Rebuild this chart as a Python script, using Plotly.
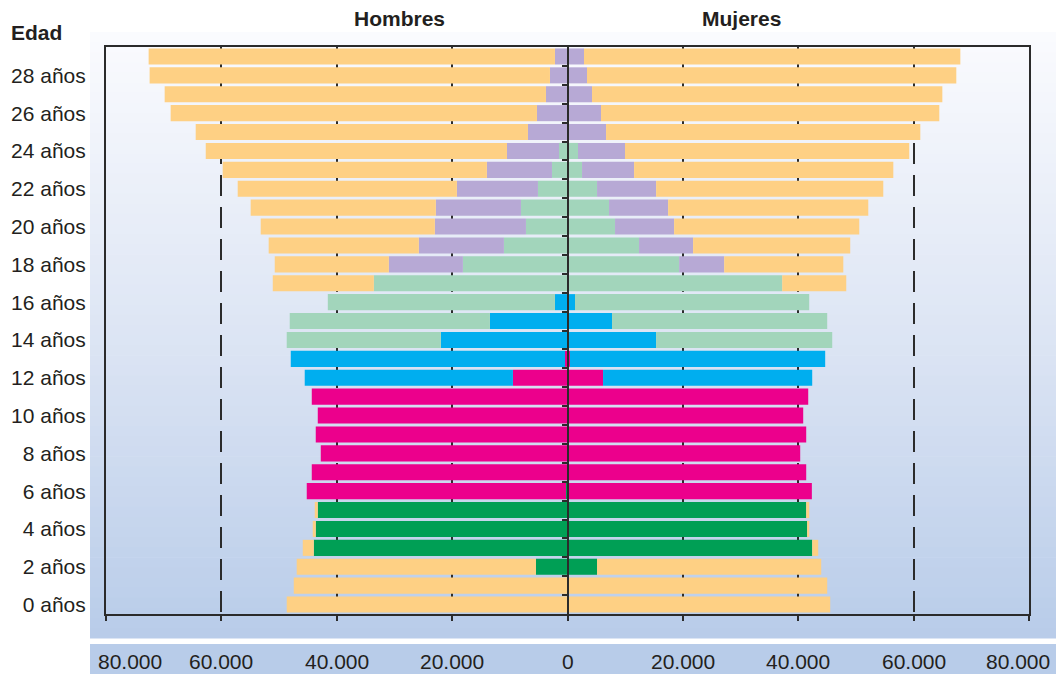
import plotly.graph_objects as go

# ---------------- data ----------------
ages = list(range(30))
age_tick_vals = [0, 2, 4, 6, 8, 10, 12, 14, 16, 18, 20, 22, 24, 26, 28]
age_tick_text = ["0 años", "2 años", "4 años", "6 años", "8 años", "10 años", "12 años",
                 "14 años", "16 años", "18 años", "20 años", "22 años", "24 años",
                 "26 años", "28 años"]

x_tick_vals = [-80000, -60000, -40000, -20000, 0, 20000, 40000, 60000, 80000]
x_tick_text = ["80.000", "60.000", "40.000", "20.000", "0", "20.000", "40.000", "60.000", "80.000"]

# Hombres, by age 0..29
h_preescolar = [0, 0, 5470, 43980, 43640, 43290, 260, 0, 0, 0,
                0, 0, 0, 0, 0, 0, 0, 0, 0, 0,
                0, 0, 0, 0, 0, 0, 0, 0, 0, 0]
h_primaria = [0, 0, 0, 0, 0, 0, 44940, 44330, 42770, 43640,
              43290, 44330, 9460, 430, 0, 0, 0, 0, 0, 0,
              0, 0, 0, 0, 0, 0, 0, 0, 0, 0]
h_secundaria = [0, 0, 0, 0, 0, 0, 0, 0, 0, 0,
                0, 0, 36090, 47540, 21950, 13450, 2170, 0, 0, 0,
                0, 0, 0, 0, 0, 0, 0, 0, 0, 0]
h_media = [0, 0, 0, 0, 0, 0, 0, 0, 0, 0,
           0, 0, 0, 0, 26720, 34700, 39380, 33570, 18130, 11020,
           7200, 8070, 5120, 2690, 1470, 0, 0, 0, 0, 0]
h_superior = [0, 0, 0, 0, 0, 0, 0, 0, 0, 0,
              0, 0, 0, 0, 0, 0, 0, 0, 12840, 14750,
              15790, 14750, 14050, 11280, 9020, 6850, 5290, 3730, 3040, 2170]
h_no_asiste = [48670, 47450, 41470, 1910, 520, 520, 0, 0, 0, 0,
               0, 0, 0, 0, 0, 0, 0, 17520, 19780, 26030,
               30190, 32100, 38000, 45800, 52220, 57600, 63500, 66100, 69400, 70440]

# Mujeres, by age 0..29
m_preescolar = [0, 0, 5120, 42420, 41550, 41380, 200, 0, 0, 0,
                0, 0, 0, 0, 0, 0, 0, 0, 0, 0,
                0, 0, 0, 0, 0, 0, 0, 0, 0, 0]
m_primaria = [0, 0, 0, 0, 0, 0, 42160, 41380, 40340, 41380,
              40860, 41730, 6160, 430, 0, 0, 0, 0, 0, 0,
              0, 0, 0, 0, 0, 0, 0, 0, 0, 0]
m_secundaria = [0, 0, 0, 0, 0, 0, 0, 0, 0, 0,
                0, 0, 36260, 44240, 15350, 7720, 1300, 0, 0, 0,
                0, 0, 0, 0, 0, 0, 0, 0, 0, 0]
m_media = [0, 0, 0, 0, 0, 0, 0, 0, 0, 0,
           0, 0, 0, 0, 30540, 37300, 40600, 37220, 19350, 12400,
           8240, 7200, 5120, 2520, 1820, 0, 0, 0, 0, 0]
m_superior = [0, 0, 0, 0, 0, 0, 0, 0, 0, 0,
              0, 0, 0, 0, 0, 0, 0, 0, 7810, 9370,
              10240, 10240, 10240, 9020, 8150, 6680, 5810, 4250, 3380, 2860]
m_no_asiste = [45540, 45020, 38860, 1040, 350, 520, 0, 0, 0, 0,
               0, 0, 0, 0, 0, 0, 0, 11100, 20650, 27240,
               32100, 34700, 39380, 44940, 49270, 54480, 58640, 60730, 64020, 65240]

series = [
    ("Preescolar", h_preescolar, m_preescolar, "#009F55"),
    ("Primaria", h_primaria, m_primaria, "#EC008C"),
    ("Secundaria", h_secundaria, m_secundaria, "#00AEEF"),
    ("Media", h_media, m_media, "#A2D5BB"),
    ("Superior", h_superior, m_superior, "#B7A9D5"),
    ("No asiste", h_no_asiste, m_no_asiste, "#FED084"),
]

TEXT = "#231F20"
FONT = "Liberation Sans, Arial, Helvetica, sans-serif"

# ---------------- figure ----------------
fig = go.Figure()
for name, men, women, color in series:
    fig.add_trace(go.Bar(y=ages, x=[-v for v in men], orientation="h", name=name,
                         marker=dict(color=color, line=dict(width=0)), showlegend=False))
    fig.add_trace(go.Bar(y=ages, x=women, orientation="h", name=name,
                         marker=dict(color=color, line=dict(width=0)), showlegend=False))

# invisible trace to activate the central axis
fig.add_trace(go.Scatter(x=[0], y=[0], yaxis="y2", mode="markers",
                         marker=dict(opacity=0), hoverinfo="skip", showlegend=False))

L, R, T, B = 106, 1029, 47, 614
W, H = R - L, B - T


def px_x(x):
    return (x - L) / W


def px_y(y):
    return (B - y) / H


# gradient background panel (strips)
top_c = (250, 251, 254)
mid_c = (221, 229, 244)
bot_c = (184, 204, 233)
y0p, y1p = 32, 638
n = 60
shapes = []
for i in range(n):
    t = (i + 0.5) / n
    if t < 0.5:
        a, b, u = top_c, mid_c, t / 0.5
    else:
        a, b, u = mid_c, bot_c, (t - 0.5) / 0.5
    c = tuple(round(a[k] + (b[k] - a[k]) * u) for k in range(3))
    ya = y0p + (y1p - y0p) * i / n
    yb = y0p + (y1p - y0p) * (i + 1) / n + 0.6
    shapes.append(dict(type="rect", xref="paper", yref="paper",
                       x0=px_x(90), x1=px_x(1056), y0=px_y(yb), y1=px_y(ya),
                       fillcolor="rgb(%d,%d,%d)" % c, line=dict(width=0), layer="below"))
# bottom tick band
shapes.append(dict(type="rect", xref="paper", yref="paper",
                   x0=px_x(90), x1=px_x(1056), y0=px_y(674), y1=px_y(644),
                   fillcolor="#B8CCE9", line=dict(width=0), layer="below"))

annotations = []
for v, txt in zip(x_tick_vals, x_tick_text):
    shift = 0
    if v == x_tick_vals[0]:
        shift = 24
    elif v == x_tick_vals[-1]:
        shift = -11
    annotations.append(dict(x=v, y=px_y(661), xref="x", yref="paper", text=txt,
                            showarrow=False, xshift=shift, yanchor="middle",
                            font=dict(size=21, color=TEXT, family=FONT)))
annotations.append(dict(x=px_x(352), y=px_y(18), xref="paper", yref="paper", text="<b>Hombres</b>",
                        showarrow=False, yanchor="middle",
                        font=dict(size=21, color=TEXT, family=FONT)))
annotations.append(dict(x=px_x(783), y=px_y(18), xref="paper", yref="paper", text="<b>Mujeres</b>",
                        showarrow=False, yanchor="middle",
                        font=dict(size=21, color=TEXT, family=FONT)))
annotations.append(dict(x=px_x(9), y=px_y(33), xref="paper", yref="paper", text="<b>Edad</b>",
                        xanchor="left", yanchor="middle", showarrow=False,
                        font=dict(size=21, color=TEXT, family=FONT)))

fig.update_layout(
    width=1056, height=674,
    margin=dict(l=L, r=1056 - R, t=T, b=674 - B, autoexpand=False),
    paper_bgcolor="white", plot_bgcolor="rgba(0,0,0,0)",
    barmode="relative", bargap=0.15,
    showlegend=False,
    shapes=shapes, annotations=annotations,
    font=dict(family=FONT, color=TEXT),
    xaxis=dict(range=[-80000, 80000], tickvals=x_tick_vals, showticklabels=False,
               ticks="outside", ticklen=5, tickwidth=1.5, tickcolor="#2B2B2B",
               showgrid=True, gridcolor="#2B2B2B", gridwidth=2, griddash="21px,11px",
               zeroline=False, showline=True, linecolor="#2B2B2B", linewidth=2, mirror=True,
               fixedrange=True, automargin=False),
    yaxis=dict(range=[-0.5, 29.5], tickvals=age_tick_vals, ticktext=age_tick_text,
               tickfont=dict(size=21, color=TEXT, family=FONT),
               ticks="outside", ticklen=14, tickcolor="rgba(0,0,0,0)",
               showgrid=False, zeroline=False, showline=True, linecolor="#2B2B2B",
               linewidth=2, mirror=True, fixedrange=True, automargin=False),
    yaxis2=dict(range=[-0.5, 29.5], overlaying="y", anchor="free", position=0.5, side="left",
                tickvals=[a + 0.5 for a in ages[:-1]], showticklabels=False,
                ticks="outside", ticklen=5, tickwidth=1.5, tickcolor="#2B2B2B",
                showgrid=False, zeroline=False, showline=True, linecolor="#2B2B2B",
                linewidth=2, layer="above traces", fixedrange=True, automargin=False),
)

fig.write_html("out.html", config={"displayModeBar": False},
               post_script="document.body.style.margin='0px';document.body.style.overflow='hidden';")
